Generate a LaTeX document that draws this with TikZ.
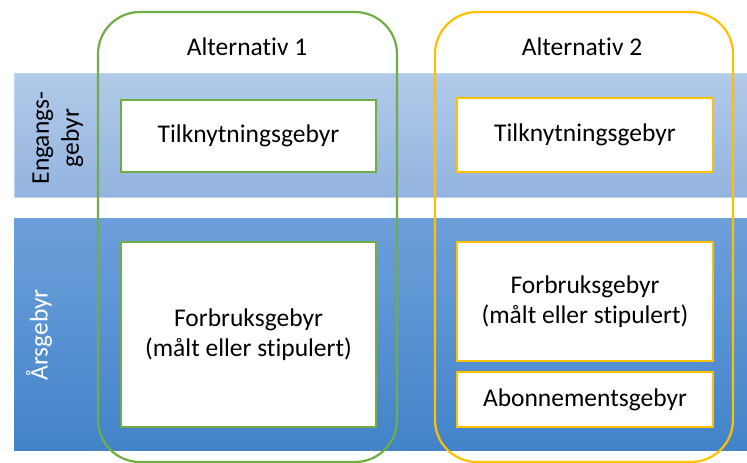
\documentclass[tikz,border=0pt]{standalone}
\usepackage{fontspec}
\setmainfont{Carlito}[Ligatures=NoCommon]
\usetikzlibrary{positioning}
\definecolor{grn}{HTML}{70AD47}
\definecolor{ylw}{HTML}{FFC000}
\definecolor{topA}{HTML}{B2CAE9}
\definecolor{topB}{HTML}{93B4E0}
\definecolor{botA}{HTML}{6EA0DB}
\definecolor{botB}{HTML}{4283C9}
\begin{document}
\begin{tikzpicture}[x=1pt,y=-1pt,
  lbl/.style={font=\fontsize{25.5}{30}\selectfont, align=center, text=black},
  gbox/.style={draw=grn, line width=1.3pt, fill=white},
  ybox/.style={draw=ylw, line width=1.3pt, fill=white},
  outer/.style={rounded corners=42pt, line width=2.2pt}]
\useasboundingbox (0,0) rectangle (747,463);
% bands
\shade[top color=topA, bottom color=topB, draw=topA!80!white] (14,73) rectangle (747,197);
\shade[top color=botA, bottom color=botB] (14,218) rectangle (747,450);
% row labels
\node[lbl, rotate=90] (eng) at (58,138) {Engangs-\\gebyr};
\node[lbl, rotate=90, text=white] (ars) at (39,335) {Årsgebyr};
% inner boxes
\node[gbox, minimum width=255pt, minimum height=72pt, lbl] (g1) at (248.5,136) {Tilknytningsgebyr};
\node[gbox, minimum width=255pt, minimum height=185pt, lbl] (g2) at (248.5,334.5) {Forbruksgebyr\\(målt eller stipulert)};
\node[ybox, minimum width=256pt, minimum height=74pt, lbl] (y1) at (585,135) {Tilknytningsgebyr};
\node[ybox, minimum width=256pt, minimum height=119pt, lbl] (y2) at (585,301.5) {Forbruksgebyr\\(målt eller stipulert)};
\node[ybox, minimum width=256pt, minimum height=55pt, lbl] (y3) at (585,399.5) {Abonnementsgebyr};
% outer rounded frames
\draw[outer, draw=grn] (98,12) rectangle (397,462);
\draw[outer, draw=ylw] (435,12) rectangle (733,462);
\node[lbl] (a1) at (247,47) {Alternativ 1};
\node[lbl] (a2) at (582,47) {Alternativ 2};
\end{tikzpicture}
\end{document}
